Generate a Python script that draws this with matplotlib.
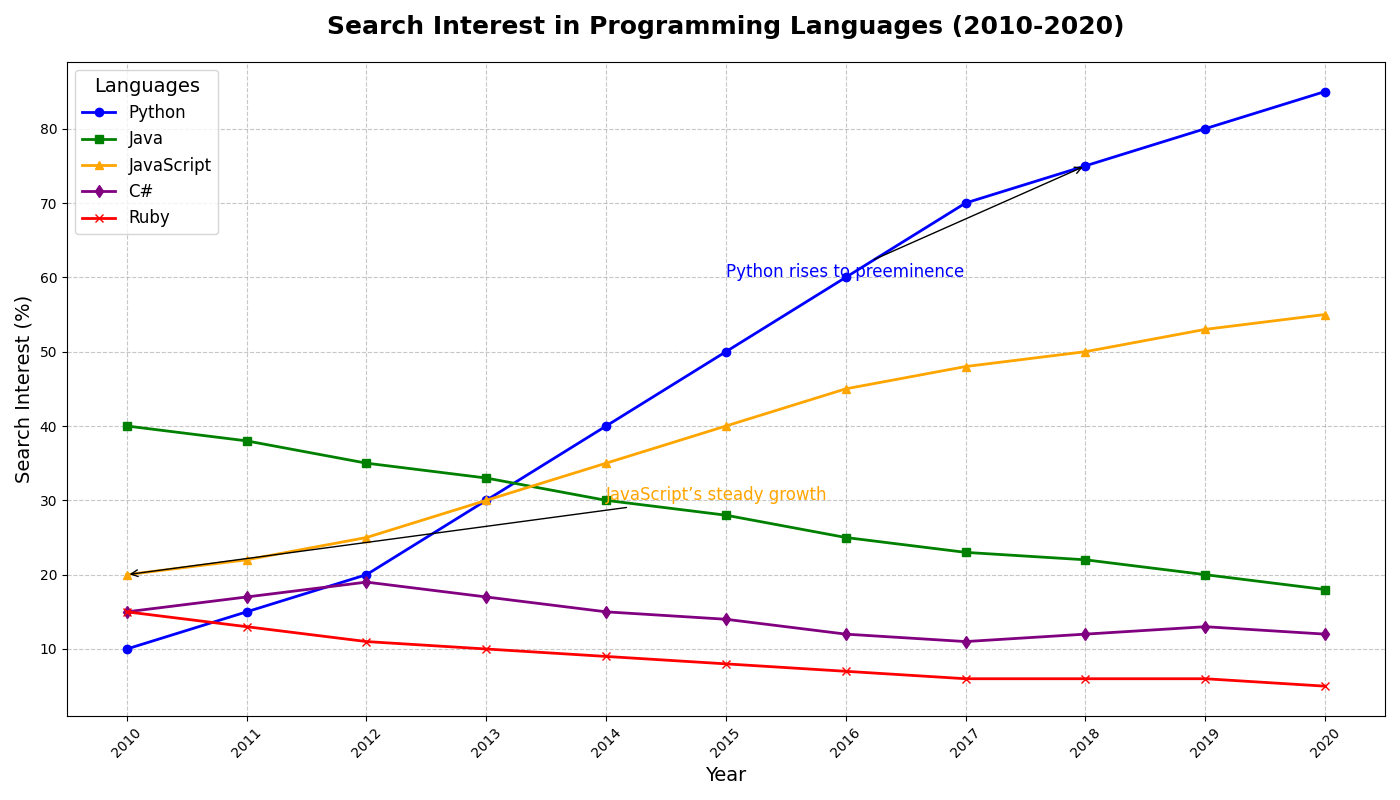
import matplotlib
matplotlib.use('Agg')
import matplotlib.pyplot as plt

years = [2010, 2011, 2012, 2013, 2014, 2015, 2016, 2017, 2018, 2019, 2020]
python = [10, 15, 20, 30, 40, 50, 60, 70, 75, 80, 85]
java = [40, 38, 35, 33, 30, 28, 25, 23, 22, 20, 18]
javascript = [20, 22, 25, 30, 35, 40, 45, 48, 50, 53, 55]
csharp = [15, 17, 19, 17, 15, 14, 12, 11, 12, 13, 12]
ruby = [15, 13, 11, 10, 9, 8, 7, 6, 6, 6, 5]

fig, ax = plt.subplots(figsize=(14, 8), dpi=100)

ax.plot(years, python, marker='o', color='blue', linewidth=2, label='Python')
ax.plot(years, java, marker='s', color='green', linewidth=2, label='Java')
ax.plot(years, javascript, marker='^', color='orange', linewidth=2, label='JavaScript')
ax.plot(years, csharp, marker='d', color='purple', linewidth=2, label='C#')
ax.plot(years, ruby, marker='x', color='red', linewidth=2, label='Ruby')

# annotations
ax.annotate('Python rises to preeminence', xy=(2018, 75), xytext=(2015, 60),
            arrowprops=dict(arrowstyle='->', color='black'),
            fontsize=12, color='blue')
ax.annotate('JavaScript\u2019s steady growth', xy=(2010, 20), xytext=(2014, 30),
            arrowprops=dict(arrowstyle='->', color='black'),
            fontsize=12, color='orange')

ax.set_title('Search Interest in Programming Languages (2010-2020)', fontsize=18,
             fontweight='bold', pad=20)
ax.set_xlabel('Year', fontsize=14)
ax.set_ylabel('Search Interest (%)', fontsize=14)
ax.set_xticks(years)
ax.set_xticklabels([str(y) for y in years], rotation=45)
ax.grid(True, linestyle='--', alpha=0.7)
ax.legend(title='Languages', fontsize=12, title_fontsize=14, loc='upper left')

fig.tight_layout()
plt.savefig('out.png')
